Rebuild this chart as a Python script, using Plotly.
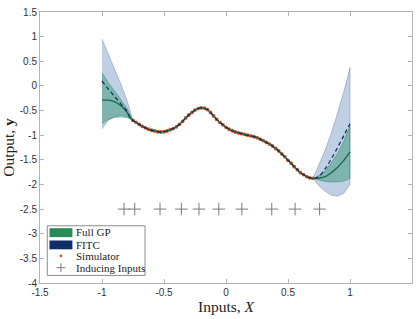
import plotly.graph_objects as go

# ---------------- data ----------------
sim_x = [-0.75, -0.725, -0.70, -0.675, -0.65, -0.625, -0.60, -0.575, -0.55, -0.525,
         -0.50, -0.475, -0.45, -0.425, -0.40, -0.375, -0.35, -0.325, -0.30, -0.275,
         -0.25, -0.225, -0.20, -0.175, -0.15, -0.125, -0.10, -0.075, -0.05, -0.025,
         0.00, 0.025, 0.05, 0.075, 0.10, 0.125, 0.15, 0.175, 0.20, 0.225,
         0.25, 0.275, 0.30, 0.325, 0.35, 0.375, 0.40, 0.425, 0.45, 0.475,
         0.50, 0.525, 0.55, 0.575, 0.60, 0.625, 0.65, 0.675, 0.70]
sim_y = [-0.70, -0.74, -0.78, -0.82, -0.85, -0.88, -0.90, -0.915, -0.93, -0.935,
         -0.93, -0.915, -0.89, -0.865, -0.83, -0.78, -0.72, -0.65, -0.59, -0.54,
         -0.49, -0.46, -0.445, -0.45, -0.48, -0.54, -0.61, -0.68, -0.74, -0.79,
         -0.84, -0.88, -0.91, -0.935, -0.955, -0.97, -0.985, -1.00, -1.015, -1.03,
         -1.05, -1.08, -1.11, -1.145, -1.18, -1.22, -1.27, -1.32, -1.38, -1.44,
         -1.51, -1.57, -1.64, -1.70, -1.76, -1.80, -1.84, -1.865, -1.875]

# extrapolation region, left of data
left_x = [-1.0, -0.95, -0.90, -0.85, -0.80, -0.775]
left_fitc_upper = [0.95, 0.66, 0.36, 0.05, -0.28, -0.50]
left_fitc_lower = [-0.87, -0.70, -0.62, -0.60, -0.62, -0.66]
left_fitc_mean = [0.10, -0.06, -0.21, -0.36, -0.51, -0.63]
left_full_upper = [0.27, 0.07, -0.10, -0.27, -0.45, -0.58]
left_full_lower = [-0.77, -0.68, -0.64, -0.63, -0.64, -0.67]
left_full_mean = [-0.29, -0.29, -0.32, -0.40, -0.53, -0.64]

# extrapolation region, right of data
right_x = [0.725, 0.75, 0.80, 0.85, 0.90, 0.95, 1.0]
right_fitc_upper = [-1.72, -1.60, -1.30, -0.95, -0.55, -0.12, 0.37]
right_fitc_lower = [-1.95, -2.03, -2.14, -2.22, -2.24, -2.18, -2.00]
right_fitc_mean = [-1.87, -1.84, -1.68, -1.48, -1.25, -1.01, -0.77]
right_full_upper = [-1.855, -1.82, -1.72, -1.56, -1.37, -1.12, -0.81]
right_full_lower = [-1.895, -1.91, -1.94, -1.95, -1.95, -1.93, -1.88]
right_full_mean = [-1.875, -1.87, -1.84, -1.76, -1.65, -1.51, -1.34]

inducing_x = [-0.822, -0.736, -0.532, -0.360, -0.218, -0.058, 0.128, 0.369, 0.557, 0.755]
inducing_y = [-2.5] * len(inducing_x)

x_ticks = [-1.5, -1, -0.5, 0, 0.5, 1, 1.5]
x_ticktext = ["-1.5", "-1", "-0.5", "0", "0.5", "1", "1.5"]
y_ticks = [-4, -3.5, -3, -2.5, -2, -1.5, -1, -0.5, 0, 0.5, 1, 1.5]
y_ticktext = ["-4", "-3.5", "-3", "-2.5", "-2", "-1.5", "-1", "-0.5", "0", "0.5", "1", "1.5"]

# ---------------- assemble ----------------
xs = left_x + sim_x + right_x
fitc_up = left_fitc_upper + sim_y + right_fitc_upper
fitc_lo = left_fitc_lower + sim_y + right_fitc_lower
fitc_mu = left_fitc_mean + sim_y + right_fitc_mean
full_up = left_full_upper + sim_y + right_full_upper
full_lo = left_full_lower + sim_y + right_full_lower
full_mu = left_full_mean + sim_y + right_full_mean

BLUE_FILL = "rgba(55,110,175,0.32)"
BLUE_EDGE = "rgba(90,110,140,0.55)"
GREEN_FILL = "rgba(35,140,100,0.42)"
GREEN_EDGE = "rgba(40,110,80,0.55)"
GREEN_LINE = "#17694a"
NAVY = "#0f2d66"
SIM = "#d9531e"
AXIS = "#b3b3b3"

fig = go.Figure()
fig.add_trace(go.Scatter(x=xs + xs[::-1], y=fitc_up + fitc_lo[::-1], mode="lines",
                         fill="toself", fillcolor=BLUE_FILL,
                         line=dict(color=BLUE_EDGE, width=0.7), hoverinfo="skip"))
fig.add_trace(go.Scatter(x=xs + xs[::-1], y=full_up + full_lo[::-1], mode="lines",
                         fill="toself", fillcolor=GREEN_FILL,
                         line=dict(color=GREEN_EDGE, width=0.7), hoverinfo="skip"))
fig.add_trace(go.Scatter(x=sim_x, y=sim_y, mode="markers",
                         marker=dict(color=SIM, size=3.8, line=dict(width=0))))
fig.add_trace(go.Scatter(x=xs, y=full_mu, mode="lines", line_shape="spline",
                         line=dict(color=GREEN_LINE, width=1.3)))
fig.add_trace(go.Scatter(x=xs, y=fitc_mu, mode="lines", line_shape="spline",
                         line=dict(color=NAVY, width=1.3, dash="4px,3px")))
fig.add_trace(go.Scatter(x=inducing_x, y=inducing_y, mode="markers",
                         marker=dict(symbol="cross-thin", size=9,
                                     line=dict(color="#7a7a7a", width=1))))

# ---------------- manual legend ----------------
L, R, T, B = 40, 6, 9, 34
W, H = 419, 319
PW, PH = W - L - R, H - T - B


def px(v):
    return (v - L) / PW


def py(v):
    return (H - B - v) / PH


shapes = [
    dict(type="rect", xref="paper", yref="paper", x0=px(47.3), x1=px(145.3),
         y0=py(277.3), y1=py(226.7), line=dict(color="#8c8c8c", width=1),
         fillcolor="white", layer="above"),
    dict(type="rect", xref="paper", yref="paper", x0=px(49.5), x1=px(72.5),
         y0=py(238.3), y1=py(229.2), line=dict(width=0), fillcolor="#2a8a58", layer="above"),
    dict(type="rect", xref="paper", yref="paper", x0=px(49.5), x1=px(72.5),
         y0=py(250.7), y1=py(241.7), line=dict(width=0), fillcolor=NAVY, layer="above"),
    dict(type="circle", xref="paper", yref="paper", x0=px(59.6), x1=px(62.4),
         y0=py(258.9), y1=py(256.1), line=dict(width=0), fillcolor=SIM, layer="above"),
    dict(type="line", xref="paper", yref="paper", x0=px(56.5), x1=px(65.5),
         y0=py(269.4), y1=py(269.4), line=dict(color="#7a7a7a", width=1), layer="above"),
    dict(type="line", xref="paper", yref="paper", x0=px(61), x1=px(61),
         y0=py(273.9), y1=py(264.9), line=dict(color="#7a7a7a", width=1), layer="above"),
]
labels = ["Full GP", "FITC", "Simulator", "Inducing Inputs"]
label_y = [233.5, 245.8, 257.6, 269.6]
annotations = [
    dict(text=t, xref="paper", yref="paper", x=px(74), y=py(yv), xanchor="left",
         yanchor="middle", showarrow=False,
         font=dict(family="Liberation Serif", size=11, color="#222222"))
    for t, yv in zip(labels, label_y)
]

fig.update_layout(
    width=W, height=H,
    margin=dict(l=L, r=R, t=T, b=B, pad=0),
    paper_bgcolor="white", plot_bgcolor="white",
    showlegend=False,
    shapes=shapes, annotations=annotations,
    xaxis=dict(range=[-1.5, 1.5], tickvals=x_ticks, ticktext=x_ticktext,
               showgrid=False, zeroline=False, showline=True, linecolor=AXIS,
               linewidth=1, mirror="ticks", ticks="inside", ticklen=4, tickcolor=AXIS,
               tickfont=dict(family="Liberation Sans", size=10, color="#333333"),
               title=dict(text="Inputs, <i>X</i>", standoff=4,
                          font=dict(family="Liberation Serif", size=15.5, color="#222222"))),
    yaxis=dict(range=[-4, 1.5], tickvals=y_ticks, ticktext=y_ticktext,
               showgrid=False, zeroline=False, showline=True, linecolor=AXIS,
               linewidth=1, mirror="ticks", ticks="inside", ticklen=4, tickcolor=AXIS,
               tickfont=dict(family="Liberation Sans", size=10, color="#333333"),
               title=dict(text="Output, <b>y</b>", standoff=3,
                          font=dict(family="Liberation Serif", size=15.5, color="#222222"))),
)

fig.write_html("out.html")
